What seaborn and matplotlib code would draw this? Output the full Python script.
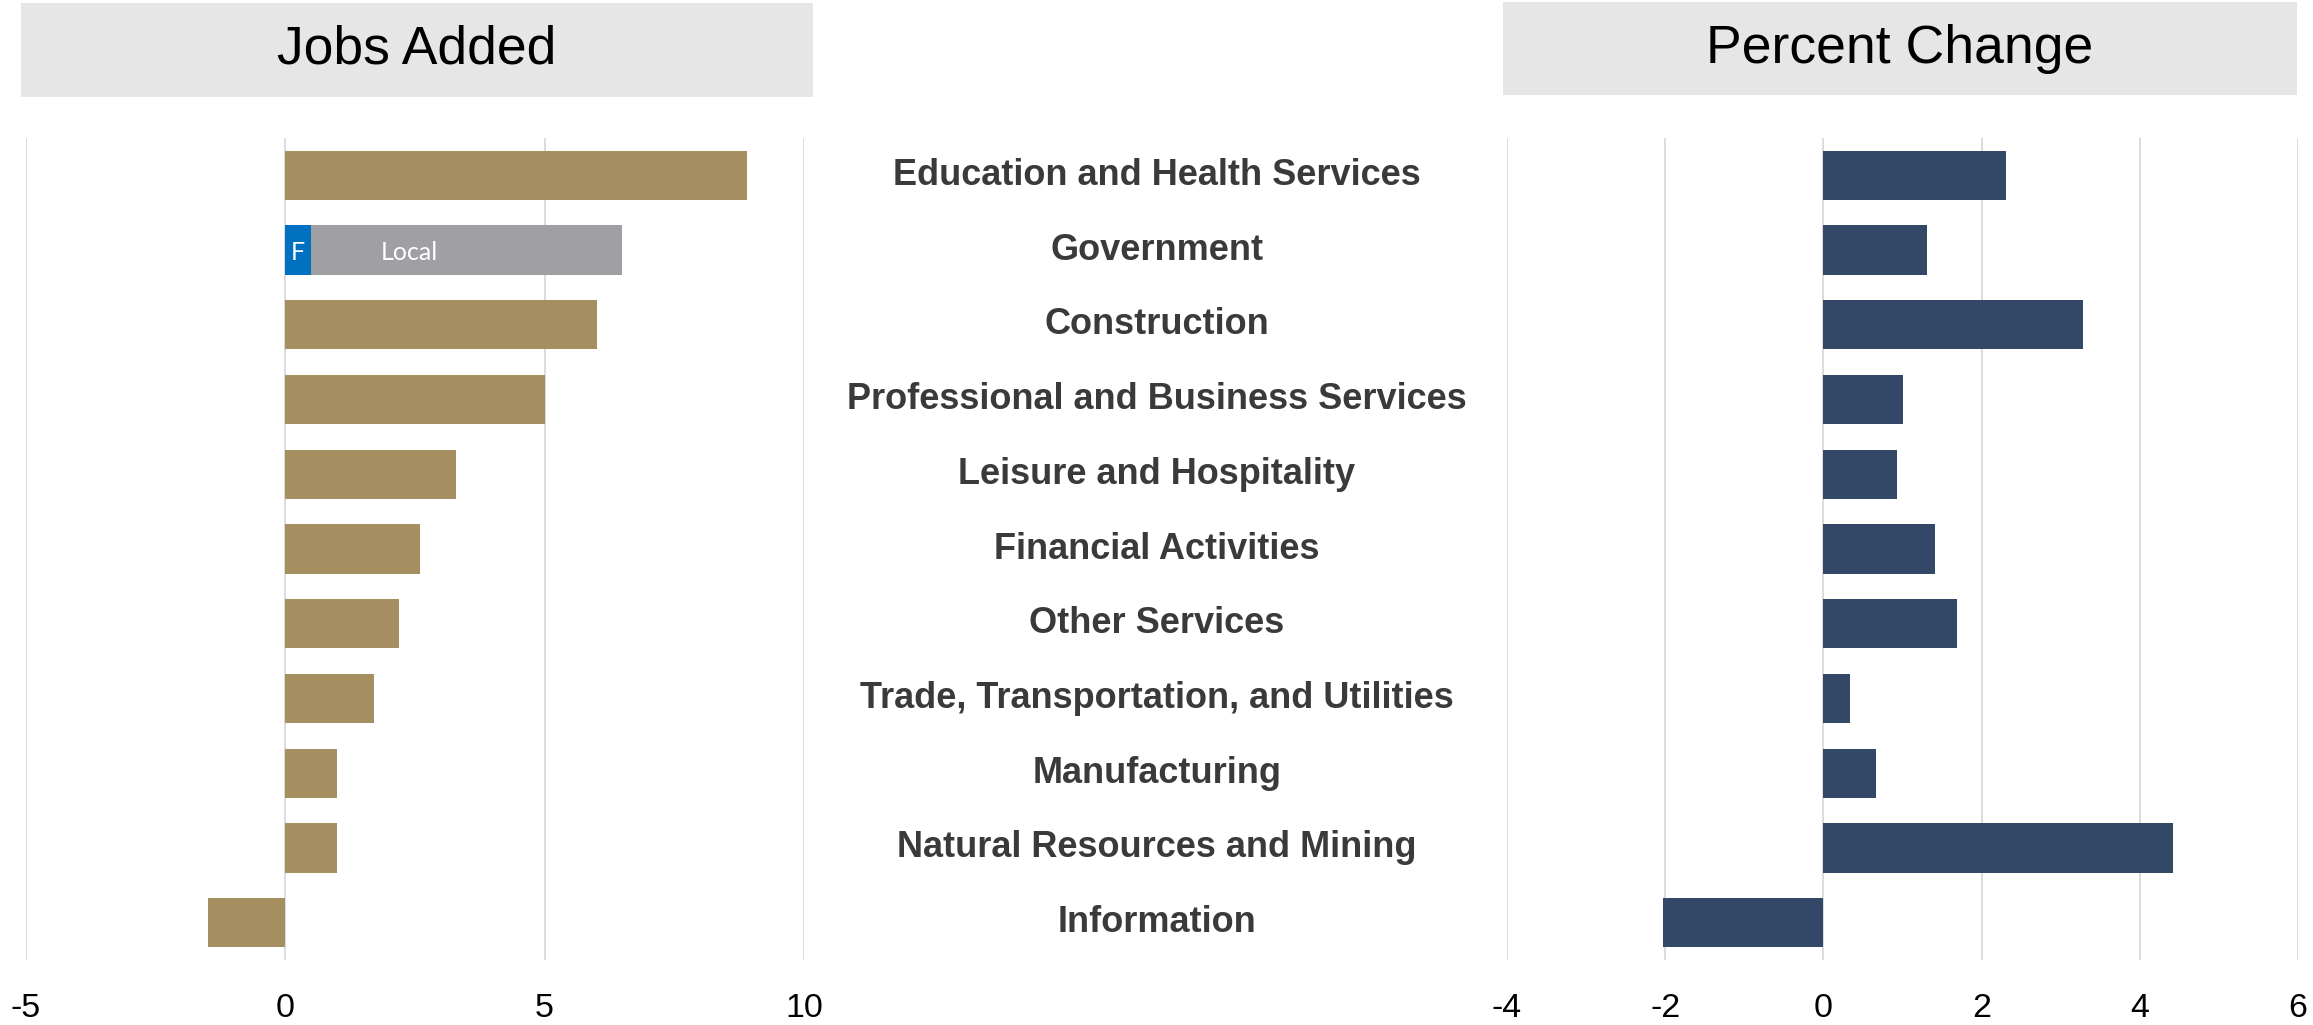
import matplotlib
matplotlib.use("Agg")
import matplotlib.pyplot as plt
import matplotlib.transforms as mtransforms
from matplotlib.patches import Rectangle
import seaborn as sns
import pandas as pd

# ---- data ----
categories = [
    "Education and Health Services",
    "Government",
    "Construction",
    "Professional and Business Services",
    "Leisure and Hospitality",
    "Financial Activities",
    "Other Services",
    "Trade, Transportation, and Utilities",
    "Manufacturing",
    "Natural Resources and Mining",
    "Information",
]
jobs_added = [8.9, 6.5, 6.0, 5.0, 3.3, 2.6, 2.2, 1.7, 1.0, 1.0, -1.5]
gov_federal = 0.5
gov_local = 6.0
pct_change = [2.31, 1.31, 3.28, 1.0, 0.93, 1.41, 1.69, 0.34, 0.66, 4.42, -2.03]

left_ticks = [-5, 0, 5, 10]
right_ticks = [-4, -2, 0, 2, 4, 6]

# ---- style ----
sns.set_theme(style="white")
plt.rcParams["font.family"] = ["Liberation Sans", "DejaVu Sans"]

GOLD = "#a58f61"
NAVY = "#324866"
FED_BLUE = "#0070c0"
LOCAL_GRAY = "#a09fa4"
HEAD_BG = "#e6e6e6"
GRID = "#d9d9d9"

W, H = 2313, 1025
fig = plt.figure(figsize=(W / 100, H / 100), dpi=100)

def fx(px):
    return px / W

def fy(py):
    return 1 - py / H

ax_top, ax_bot = 138, 960
axL = fig.add_axes([fx(26), fy(ax_bot), fx(804) - fx(26), fy(ax_top) - fy(ax_bot)])
axR = fig.add_axes([fx(1507), fy(ax_bot), fx(2298) - fx(1507), fy(ax_top) - fy(ax_bot)])

df = pd.DataFrame({"cat": categories, "jobs": jobs_added, "pct": pct_change})
df_gold = df[df["cat"] != "Government"]

bw = 0.66
# left panel: gold bars (all but government)
sns.barplot(data=df_gold, x="jobs", y="cat", order=categories, orient="h",
            color=GOLD, width=bw, saturation=1, ax=axL, linewidth=0)
# government stacked: federal + local
gov_df = pd.DataFrame({"cat": ["Government"], "total": [gov_federal + gov_local],
                       "fed": [gov_federal]})
sns.barplot(data=gov_df, x="total", y="cat", order=categories, orient="h",
            color=LOCAL_GRAY, width=bw, saturation=1, ax=axL, linewidth=0)
sns.barplot(data=gov_df, x="fed", y="cat", order=categories, orient="h",
            color=FED_BLUE, width=bw, saturation=1, ax=axL, linewidth=0)
gi = categories.index("Government")
axL.text(gov_federal / 2, gi, "F", color="white", ha="center", va="center_baseline",
         fontsize=18, family=["Lato", "DejaVu Sans"])
axL.text(2.4, gi, "Local", color="white", ha="center", va="center_baseline",
         fontsize=18, family=["Lato", "DejaVu Sans"])

# right panel
sns.barplot(data=df, x="pct", y="cat", order=categories, orient="h",
            color=NAVY, width=bw, saturation=1, ax=axR, linewidth=0)

for ax, ticks in ((axL, left_ticks), (axR, right_ticks)):
    ax.set_xlim(ticks[0], ticks[-1])
    ax.set_xticks(ticks)
    ax.set_xticklabels([str(t) for t in ticks])
    ax.set_ylim(len(categories) - 0.5, -0.5)
    ax.set_yticks([])
    ax.set_xlabel("")
    ax.set_ylabel("")
    for s in ax.spines.values():
        s.set_visible(False)
    ax.grid(axis="x", color=GRID, linewidth=1.3)
    ax.grid(axis="y", visible=False)
    ax.set_axisbelow(True)
    ax.tick_params(axis="x", length=0, pad=24, labelsize=24.5, labelcolor="black")

# center category labels
trans = mtransforms.blended_transform_factory(fig.transFigure, axL.transData)
for i, c in enumerate(categories):
    fig.text(fx(1157), i, c, transform=trans, ha="center", va="center",
             fontsize=26, fontweight="bold", color="#3a3a3a")

# header boxes
for (x0, x1, y0, y1, title) in ((21, 813, 3, 97, "Jobs Added"),
                                (1503, 2297, 2, 95, "Percent Change")):
    fig.add_artist(Rectangle((fx(x0), fy(y1)), fx(x1) - fx(x0), fy(y0) - fy(y1),
                             transform=fig.transFigure, facecolor=HEAD_BG,
                             edgecolor="none", zorder=0))
    fig.text((fx(x0) + fx(x1)) / 2, (fy(y0) + fy(y1)) / 2, title,
             ha="center", va="center", fontsize=38.5, color="black")

fig.savefig("out.png", dpi=100, facecolor="white")
